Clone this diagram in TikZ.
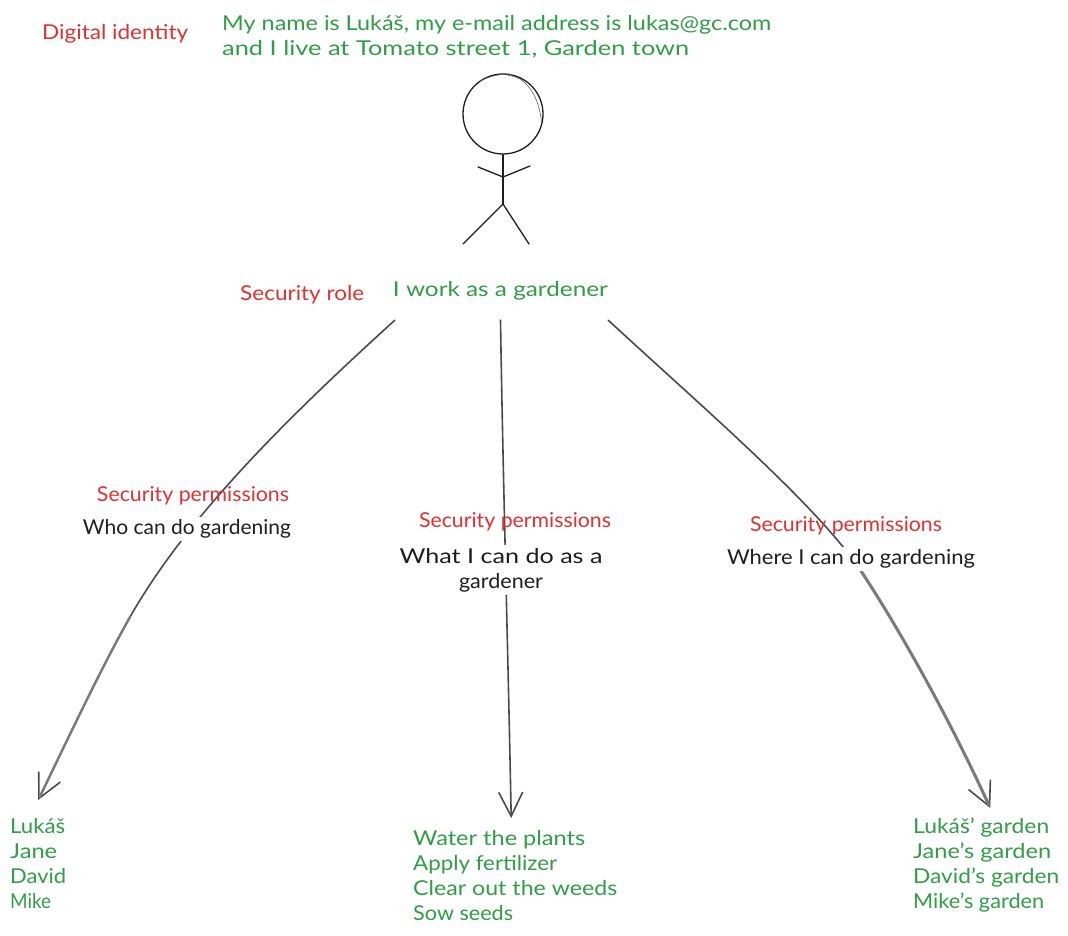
\documentclass[tikz,border=0pt]{standalone}
\usepackage{graphicx}
\usepackage{fontspec}
\setmainfont{Lato}
\usetikzlibrary{arrows.meta,backgrounds}
\definecolor{skred}{HTML}{E03131}
\definecolor{skgreen}{HTML}{2F9E44}
\definecolor{skink}{HTML}{1E1E1E}
\definecolor{skline}{HTML}{4A4A4A}
\definecolor{skthick}{HTML}{7A7A7A}
\newcommand{\fitw}[2]{\resizebox{#1pt}{\height}{#2}}
\tikzset{
  x=1pt,y=-1pt,
  lbl/.style={font=\fontsize{20.5}{25}\selectfont,inner sep=0pt,align=left},
  redlbl/.style={lbl,text=skred},
  greenlbl/.style={lbl,text=skgreen},
  inklbl/.style={lbl,text=skink,fill=white,align=center,inner xsep=2pt,inner ysep=3pt},
  stick/.style={draw=skink,line width=1.3pt,line cap=round,line join=round},
  flow/.style={draw=skline,line width=1.6pt,line cap=round,-{Straight Barb[length=24pt,width=24pt,line width=1.6pt]}},
  swell/.style={draw=skthick,line cap=round,shorten >=3pt},
}
\begin{document}
\begin{tikzpicture}
\useasboundingbox (0,0) rectangle (1068,936);

\node[redlbl,anchor=west] (idlabel) at (42,33.5) {\fitw{146}{Digital identity}};
\node[greenlbl,anchor=west] (idtext) at (222,37) {\fitw{549}{My name is Lukáš, my e-mail address is lukas@gc.com}\\\fitw{467}{and I live at Tomato street 1, Garden town}};

\node[circle,draw=skink,line width=1.3pt,minimum size=80pt,inner sep=0pt] (head) at (503,114) {};
\coordinate (neck) at (503,177);
\coordinate (hip) at (503,204);
\coordinate (handl) at (478,167);
\coordinate (handr) at (530,166);
\coordinate (footl) at (463,244);
\coordinate (footr) at (529,244);
\draw[stick] (head.south) -- (neck) -- (hip);
\draw[stick] (handl) -- (neck) -- (handr);
\draw[stick] (footl) -- (hip) -- (footr);
\draw[draw=skink!70,line width=.6pt] (508,75.5) .. controls (525,76) and (539,95) .. (541.5,122);
\draw[draw=skink!70,line width=.6pt] (480,81) .. controls (490,76) and (503,73) .. (512,74.5);

\node[redlbl,anchor=west] (rolelabel) at (240,295) {\fitw{124}{Security role}};
\node[greenlbl,minimum width=215pt,minimum height=58pt,align=center] (role) at (500.5,291) {\raisebox{-3pt}{\fitw{215}{I work as a gardener}}};

\node[redlbl,anchor=center] (perm1) at (193,496) {\fitw{192}{Security permissions}};
\node[redlbl,anchor=center] (perm2) at (515,522) {\fitw{192}{Security permissions}};
\node[redlbl,anchor=center] (perm3) at (846,526) {\fitw{192}{Security permissions}};

\node[inklbl] (who) at (187,529) {\fitw{208}{Who can do gardening}};
\node[inklbl] (what) at (501,570) {\fitw{203}{What I can do as a}\\\fitw{84}{gardener}};
\node[inklbl] (where) at (851,559) {\fitw{248}{Where I can do gardening}};

\node[greenlbl,anchor=north west,inner ysep=18pt] (people) at (10,800) {\fitw{55}{Lukáš}\\\fitw{47}{Jane}\\\fitw{56}{David}\\\fitw{41}{Mike}};
\node[greenlbl,anchor=north west,inner ysep=12.5pt] (tasks) at (413,818) {\fitw{172}{Water the plants}\\\fitw{144}{Apply fertilizer}\\\fitw{204}{Clear out the weeds}\\\fitw{100}{Sow seeds}};
\node[greenlbl,anchor=north west,inner ysep=10pt] (gardens) at (913,808) {\fitw{136}{Lukáš' garden}\\\fitw{138}{Jane's garden}\\\fitw{146}{David's garden}\\\fitw{131}{Mike's garden}};

\coordinate (kneeL) at (130,617);
\coordinate (kneeR) at (861,571);
\begin{scope}[on background layer]
\fill[white] (0,0) rectangle (1068,936);
\draw[flow] ([xshift=2pt]role.south west) .. controls (285,420) and (187,517) .. (kneeL) .. controls (100,670) and (65,745) .. (people.north);
\draw[flow] (role.south) .. controls (503,480) and (508,650) .. ([xshift=-4pt]tasks.north);
\draw[flow] (role.south east) .. controls (700,405) and (818,506) .. (kneeR) .. controls (900,630) and (950,720) .. ([xshift=4pt]gardens.north);
\draw[swell,line width=3pt] (kneeR) .. controls (900,630) and (950,720) .. ([xshift=4pt]gardens.north);
\draw[swell,line width=2.4pt] (kneeL) .. controls (100,670) and (65,745) .. (people.north);
\end{scope}
\end{tikzpicture}
\end{document}
